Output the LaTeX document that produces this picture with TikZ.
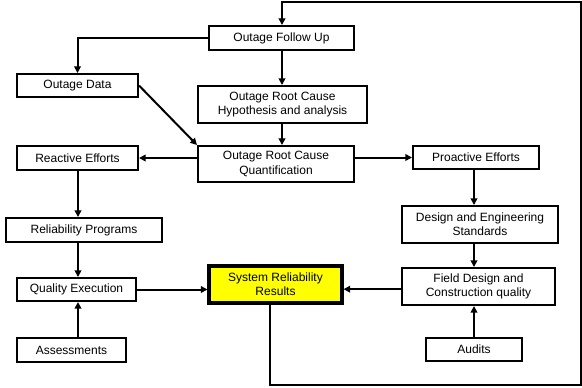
\documentclass[tikz,border=0pt]{standalone}
\usepackage{fontspec}
\setmainfont{Liberation Sans}
\usetikzlibrary{arrows.meta}
\definecolor{resyellow}{RGB}{255,255,0}
\begin{document}
\begin{tikzpicture}[x=0.75pt,y=-0.75pt,
  box/.style={draw,line width=1.5pt,fill=white,inner sep=0pt,align=center,
    font=\fontsize{9}{10.7}\selectfont},
  result/.style={box,line width=2.3pt,fill=resyellow},
  flow/.style={line width=1.5pt,-{Triangle[length=5pt,width=5pt]}}]
\useasboundingbox (0,0) rectangle (582,387);

% boxes: positions are centres, sizes in the same units
\node[box,minimum width=108.75pt,minimum height=18pt] (fup) at (281.5,38) {Outage Follow Up};
\node[box,minimum width=90.75pt,minimum height=17.25pt] (odata) at (77.5,85.5) {Outage Data};
\node[box,minimum width=126.75pt,minimum height=27.75pt] (hyp) at (282.5,104.5) {Outage Root Cause\\Hypothesis and analysis};
\node[box,minimum width=117pt,minimum height=27pt] (quant) at (276,164) {Outage Root Cause\\Quantification};
\node[box,minimum width=90.75pt,minimum height=18pt] (react) at (77.5,158) {Reactive Efforts};
\node[box,minimum width=94.5pt,minimum height=17.25pt] (proact) at (476,157.5) {Proactive Efforts};
\node[box,minimum width=117pt,minimum height=18pt] (relprog) at (84,230) {Reliability Programs};
\node[box,minimum width=89.25pt,minimum height=17.25pt] (qual) at (76.5,289.5) {Quality Execution};
\node[box,minimum width=81.75pt,minimum height=18pt] (assess) at (71.5,350) {Assessments};
\node[result,minimum width=99.75pt,minimum height=27.75pt] (sys) at (275.5,284.5) {System Reliability\\Results};
\node[box,minimum width=117pt,minimum height=27.75pt] (des) at (480,224.5) {Design and Engineering\\Standards};
\node[box,minimum width=114.75pt,minimum height=27.75pt] (field) at (478.5,286.5) {Field Design and\\Construction quality};
\node[box,minimum width=72pt,minimum height=17.25pt] (audits) at (474,349.5) {Audits};

% connector columns and the feedback loop corners
\coordinate (cmid) at (282,0);
\coordinate (cleft) at (78,0);
\coordinate (cright) at (474,0);
\coordinate (loopa) at (270,385);
\coordinate (loopb) at (581,385);
\coordinate (loopc) at (581,2);
\coordinate (loopd) at (282,2);

% feedback loop from the results back to the follow up
\draw[flow] (sys.south -| loopa) -- (loopa) -- (loopb) -- (loopc) -- (loopd) -- (fup.north -| loopd);

% upper part
\draw[flow] (fup.west) -| (odata.north);
\draw[flow] (fup.south -| cmid) -- (hyp.north -| cmid);
\draw[flow] (hyp.south -| cmid) -- (quant.north -| cmid);
\draw[flow] (odata.east) -- (quant.north west);
\draw[flow] (quant.west |- react.east) -- (react.east);
\draw[flow] (quant.east |- proact.west) -- (proact.west);

% reactive side
\draw[flow] (react.south -| cleft) -- (relprog.north -| cleft);
\draw[flow] (relprog.south -| cleft) -- (qual.north -| cleft);
\draw[flow] (assess.north -| cleft) -- (qual.south -| cleft);
\draw[flow] (qual.east) -- (qual.east -| sys.west);

% proactive side
\draw[flow] (proact.south -| cright) -- (des.north -| cright);
\draw[flow] (des.south -| cright) -- (field.north -| cright);
\draw[flow] (audits.north -| cright) -- (field.south -| cright);
\draw[flow] ([yshift=-2pt]field.west) -- ([yshift=-2pt]field.west -| sys.east);
\end{tikzpicture}
\end{document}
